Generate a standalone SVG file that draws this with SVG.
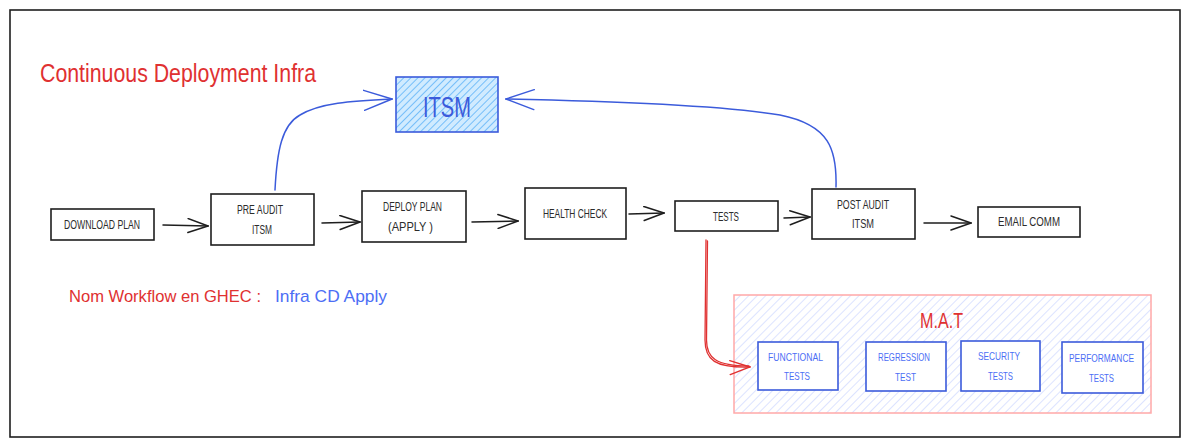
<svg xmlns="http://www.w3.org/2000/svg" width="1190" height="447" viewBox="0 0 1190 447">
<style>
  .t { font-family: "Liberation Sans", Arial, sans-serif; }
  .node { fill: #ffffff; stroke: #1e1e1e; stroke-width: 1.6; }
  .ntext { font-family: "Liberation Sans", Arial, sans-serif; font-size: 12px; fill: #2b2b2b; text-anchor: middle; }
  .bnode { fill: #ffffff; stroke: #3b5bdb; stroke-width: 1.6; }
  .btext { font-family: "Liberation Sans", Arial, sans-serif; font-size: 11px; fill: #4c6ef5; text-anchor: middle; }
  .conn { fill: none; stroke: #1e1e1e; stroke-width: 1.5; stroke-linecap: round; }
  .bconn { fill: none; stroke: #3b5bdb; stroke-width: 1.5; stroke-linecap: round; }
  .rconn { fill: none; stroke: #e03131; stroke-width: 1.3; stroke-linecap: round; }
</style>
<defs>
  <pattern id="hatchBlue" patternUnits="userSpaceOnUse" width="5" height="5" patternTransform="rotate(45)">
    <rect width="5" height="5" fill="#d0ebff"/>
    <line x1="0" y1="0" x2="0" y2="5" stroke="#4dabf7" stroke-width="1.4"/>
  </pattern>
  <pattern id="hatchLight" patternUnits="userSpaceOnUse" width="6" height="6" patternTransform="rotate(45)">
    <rect width="6" height="6" fill="#ffffff"/>
    <line x1="0" y1="0" x2="0" y2="6" stroke="#c5d0ff" stroke-width="1.2"/>
  </pattern>
  <marker id="ahBlack" viewBox="0 0 22 16" refX="21" refY="8" markerWidth="22" markerHeight="16" orient="auto" markerUnits="userSpaceOnUse">
    <path d="M1,1 L21,8 L1,15" fill="none" stroke="#1e1e1e" stroke-width="1.5" stroke-linecap="round"/>
  </marker>
  <marker id="ahBlue" viewBox="0 0 30 22" refX="29" refY="11" markerWidth="30" markerHeight="22" orient="auto" markerUnits="userSpaceOnUse">
    <path d="M1,1 L29,11 L1,21" fill="none" stroke="#3b5bdb" stroke-width="1.5" stroke-linecap="round"/>
  </marker>
  <marker id="ahRed" viewBox="0 0 22 16" refX="21" refY="8" markerWidth="22" markerHeight="16" orient="auto" markerUnits="userSpaceOnUse">
    <path d="M1,1 L21,8 L1,15" fill="none" stroke="#e03131" stroke-width="1.4" stroke-linecap="round"/>
  </marker>
</defs>

<rect x="0" y="0" width="1190" height="447" fill="#ffffff"/>

<g id="frame">
  <rect x="10" y="10" width="1170" height="427" fill="none" stroke="#1e1e1e" stroke-width="1.6"/>
</g>

<g id="title">
  <text class="t" x="40" y="82" font-size="26" fill="#e03131" textLength="276" lengthAdjust="spacingAndGlyphs">Continuous Deployment Infra</text>
</g>

<g id="workflow-name">
  <text class="t" x="69" y="302" font-size="17" fill="#e03131" textLength="192" lengthAdjust="spacingAndGlyphs">Nom Workflow en GHEC :</text>
  <text class="t" x="275" y="302" font-size="17" fill="#4c6ef5" textLength="112" lengthAdjust="spacingAndGlyphs">Infra CD Apply</text>
</g>

<g id="mat">
  <rect x="734" y="295" width="417" height="118" fill="url(#hatchLight)" stroke="#ffa8a8" stroke-width="1.5"/>
  <text class="t" x="941.5" y="328" font-size="22" fill="#e03131" text-anchor="middle" textLength="43" lengthAdjust="spacingAndGlyphs">M.A.T</text>
</g>

<g id="itsm">
  <rect x="396" y="77" width="102" height="55" fill="url(#hatchBlue)" stroke="#3b5bdb" stroke-width="1.6"/>
  <text class="t" x="447" y="117" font-size="29" fill="#3b5bdb" text-anchor="middle" textLength="48" lengthAdjust="spacingAndGlyphs">ITSM</text>
</g>

<g id="download-plan">
  <rect class="node" x="51" y="209" width="103" height="31"/>
  <text class="ntext" x="102" y="229" textLength="76" lengthAdjust="spacingAndGlyphs">DOWNLOAD PLAN</text>
</g>

<g id="pre-audit">
  <rect class="node" x="211" y="194" width="103" height="51"/>
  <text class="ntext" x="260" y="214" textLength="46" lengthAdjust="spacingAndGlyphs">PRE AUDIT</text>
  <text class="ntext" x="262" y="234" textLength="20" lengthAdjust="spacingAndGlyphs">ITSM</text>
</g>

<g id="deploy-plan">
  <rect class="node" x="362" y="191" width="104" height="51"/>
  <text class="ntext" x="412.5" y="211" textLength="59" lengthAdjust="spacingAndGlyphs">DEPLOY PLAN</text>
  <text class="ntext" x="410.5" y="231" textLength="45" lengthAdjust="spacingAndGlyphs">(APPLY )</text>
</g>

<g id="health-check">
  <rect class="node" x="525" y="188" width="101" height="51"/>
  <text class="ntext" x="575" y="218" textLength="64" lengthAdjust="spacingAndGlyphs">HEALTH CHECK</text>
</g>

<g id="tests">
  <rect class="node" x="675" y="201" width="103" height="30"/>
  <text class="ntext" x="726" y="221" textLength="26" lengthAdjust="spacingAndGlyphs">TESTS</text>
</g>

<g id="post-audit">
  <rect class="node" x="812" y="189" width="103" height="50"/>
  <text class="ntext" x="863" y="209" textLength="52" lengthAdjust="spacingAndGlyphs">POST AUDIT</text>
  <text class="ntext" x="863" y="228" textLength="22" lengthAdjust="spacingAndGlyphs">ITSM</text>
</g>

<g id="email-comm">
  <rect class="node" x="978" y="207" width="102" height="30"/>
  <text class="ntext" x="1029" y="226" textLength="62" lengthAdjust="spacingAndGlyphs">EMAIL COMM</text>
</g>

<g id="functional-tests">
  <rect class="bnode" x="758" y="342" width="80" height="48"/>
  <text class="btext" x="795.5" y="361" textLength="55" lengthAdjust="spacingAndGlyphs">FUNCTIONAL</text>
  <text class="btext" x="797" y="380" textLength="26" lengthAdjust="spacingAndGlyphs">TESTS</text>
</g>

<g id="regression-test">
  <rect class="bnode" x="866" y="342" width="80" height="49"/>
  <text class="btext" x="904" y="361" textLength="52" lengthAdjust="spacingAndGlyphs">REGRESSION</text>
  <text class="btext" x="905.5" y="381" textLength="21" lengthAdjust="spacingAndGlyphs">TEST</text>
</g>

<g id="security-tests">
  <rect class="bnode" x="961" y="341" width="79" height="50"/>
  <text class="btext" x="999" y="360" textLength="42" lengthAdjust="spacingAndGlyphs">SECURITY</text>
  <text class="btext" x="1000.5" y="380" textLength="25" lengthAdjust="spacingAndGlyphs">TESTS</text>
</g>

<g id="performance-tests">
  <rect class="bnode" x="1062" y="342" width="81" height="51"/>
  <text class="btext" x="1101.5" y="362" textLength="65" lengthAdjust="spacingAndGlyphs">PERFORMANCE</text>
  <text class="btext" x="1101.5" y="382" textLength="25" lengthAdjust="spacingAndGlyphs">TESTS</text>
</g>

<g id="connectors">
  <path class="conn" d="M163,225 L208,226" marker-end="url(#ahBlack)"/>
  <path class="conn" d="M322,223 L360,222" marker-end="url(#ahBlack)"/>
  <path class="conn" d="M472,222 L518,221" marker-end="url(#ahBlack)"/>
  <path class="conn" d="M629,214 L664,213" marker-end="url(#ahBlack)"/>
  <path class="conn" d="M784,218 L810,217" marker-end="url(#ahBlack)"/>
  <path class="conn" d="M924,223 L971,223" marker-end="url(#ahBlack)"/>
  <path class="bconn" d="M275,190 C277,150 282,125 300,115 C320,103 350,101 392,99" marker-end="url(#ahBlue)"/>
  <path class="bconn" d="M836,187 C837,150 830,125 780,115 C720,105 600,101 506,99" marker-end="url(#ahBlue)"/>
  <path class="rconn" d="M706,240 L705,340 C705,360 715,368 750,367" marker-end="url(#ahRed)"/>
  <path class="rconn" d="M707.5,241 L706.5,340 C706.5,358 716,366 749,366"/>
</g>
</svg>
